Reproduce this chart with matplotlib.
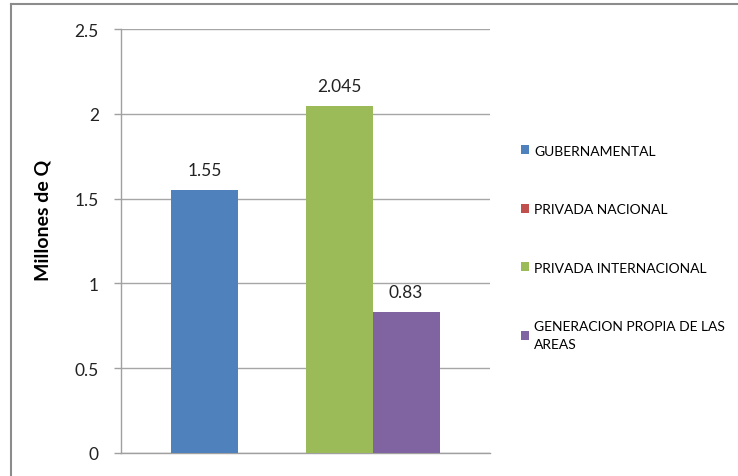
import matplotlib
matplotlib.use("Agg")
import matplotlib.pyplot as plt
from matplotlib.lines import Line2D

plt.rcParams['font.family'] = ['Lato', 'DejaVu Sans']

series = ["GUBERNAMENTAL", "PRIVADA NACIONAL", "PRIVADA INTERNACIONAL",
          "GENERACION PROPIA DE LAS\nAREAS"]
values = [1.55, 0.0, 2.045, 0.83]
value_labels = ["1.55", "", "2.045", "0.83"]
colors = ["#4F81BD", "#C0504D", "#9BBB59", "#8064A2"]
yticks = [0, 0.5, 1, 1.5, 2, 2.5]
ytick_labels = ["0", "0.5", "1", "1.5", "2", "2.5"]
ylabel = "Millones de Q"

W, H = 738, 477
fig = plt.figure(figsize=(W / 100, H / 100), dpi=100)
ax = fig.add_axes([121 / W, (H - 454) / H, (490 - 121) / W, (454 - 30) / H])

w = 1 / 5.5
n = len(values)
handles = []
for i, (v, c, lab) in enumerate(zip(values, colors, series)):
    x = (i - (n - 1) / 2) * w
    b = ax.bar(x, v, width=w, color=c, label=lab, zorder=3)
    handles.append(b)
    if value_labels[i]:
        ax.annotate(value_labels[i], (x, v), xytext=(0, 9), textcoords="offset points",
                    ha="center", va="bottom", fontsize=12.5, color="#222222")

ax.set_xlim(-0.5, 0.5)
ax.set_ylim(0, 2.5)
ax.set_yticks(yticks)
ax.set_yticklabels(ytick_labels, fontsize=12.5, color="#222222")
ax.set_xticks([])
ax.tick_params(axis="y", length=5, width=1, color="#A0A0A0", pad=11)
ax.yaxis.grid(True, color="#A6A6A6", lw=1, zorder=0)
for s in ["top", "right"]:
    ax.spines[s].set_visible(False)
for s in ["left", "bottom"]:
    ax.spines[s].set_color("#A0A0A0")
    ax.spines[s].set_linewidth(1)

fig.text(43 / W, 1 - 220 / H, ylabel, rotation=90, ha="center", va="center",
         fontsize=14, fontweight="bold")

leg = fig.legend(handles=handles, loc="upper left",
                 bbox_to_anchor=(508 / W, 1 - 133 / H), frameon=False,
                 fontsize=10, handlelength=0.6, handleheight=0.6,
                 handletextpad=0.4, labelspacing=3.35)
leg.get_texts()[3].set_linespacing(1.6)

# outer frame lines (image border)
fig.add_artist(Line2D([11 / W, 11 / W], [0, 1 - 5 / H], transform=fig.transFigure,
                      color="#8C8C8C", lw=1.5))
fig.add_artist(Line2D([11 / W, 1], [1 - 5 / H, 1 - 5 / H], transform=fig.transFigure,
                      color="#8C8C8C", lw=1.5))

fig.savefig("out.png", dpi=100)
